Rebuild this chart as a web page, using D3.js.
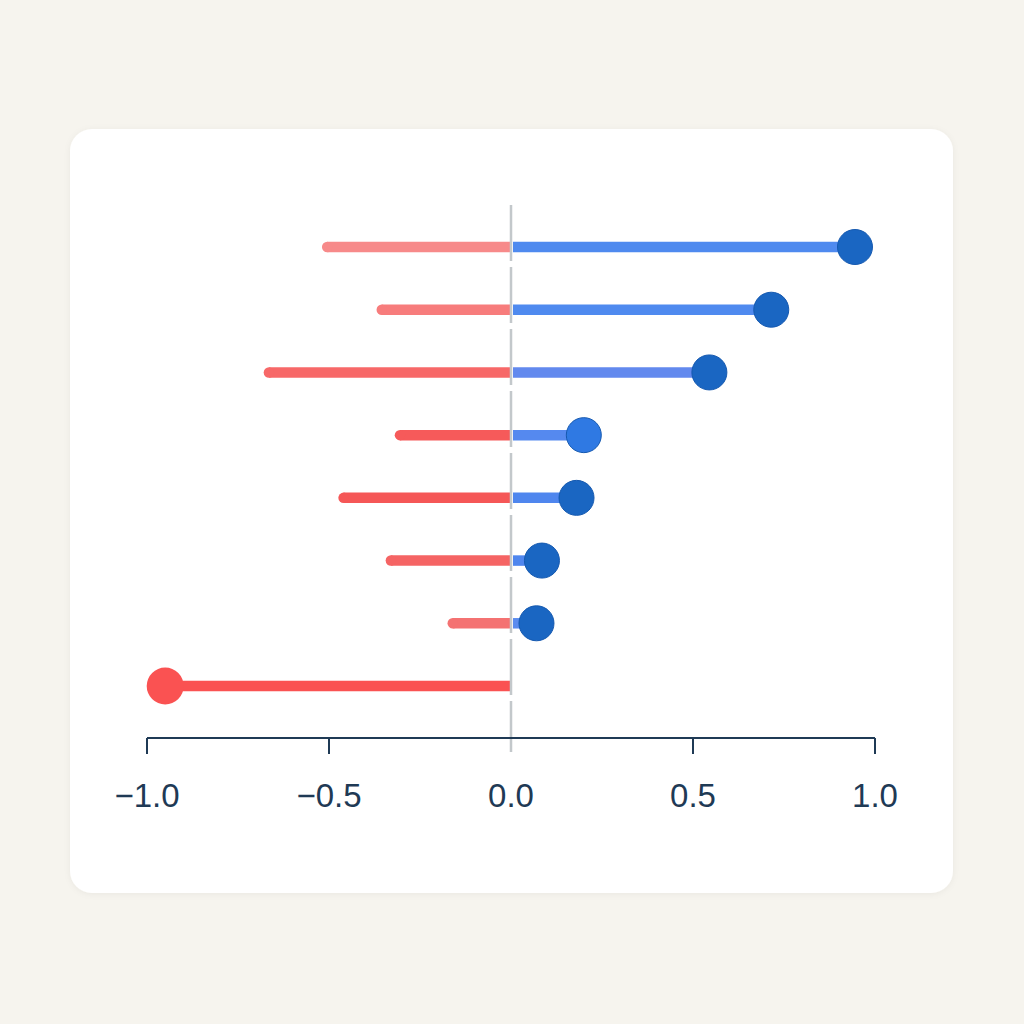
<!DOCTYPE html>
<html>
<head>
<meta charset="utf-8">
<script src="https://cdn.jsdelivr.net/npm/d3@7"></script>
<style>
  html, body { margin: 0; padding: 0; background: #f6f4ee; }
  svg { display: block; }
</style>
</head>
<body>
<svg id="chart" width="1024" height="1024"></svg>
<script>
// ---- data ----
const categories = ["A", "B", "C", "D", "E", "F", "G", "H"];
const negValues = [-0.505, -0.355, -0.665, -0.305, -0.46, -0.33, -0.16, -0.95];
const posValues = [0.945, 0.715, 0.545, 0.2, 0.18, 0.085, 0.07, null];
const negColors = ["#f78a8a", "#f77c7c", "#f76868", "#f65a5a", "#f55757", "#f56464", "#f47272", "#fa5252"];
const posBarColors = ["#4f8aef", "#4f8aef", "#6289ee", "#5589ef", "#4f86ee", "#4f86ee", "#5b8cef", null];
const posDotColors = ["#1a66c2", "#1a66c2", "#1a66c2", "#2f79e3", "#1a66c2", "#1a66c2", "#1a66c2", null];
const tickValues = [-1.0, -0.5, 0.0, 0.5, 1.0];

const svg = d3.select("#chart");

// card
const defs = svg.append("defs");
const f = defs.append("filter").attr("id", "shadow").attr("x", "-10%").attr("y", "-10%").attr("width", "120%").attr("height", "120%");
f.append("feDropShadow").attr("dx", 0).attr("dy", 1).attr("stdDeviation", 3).attr("flood-color", "#000").attr("flood-opacity", 0.05);
svg.append("rect").attr("x", 70).attr("y", 129).attr("width", 883).attr("height", 764)
  .attr("rx", 22).attr("fill", "#ffffff").attr("filter", "url(#shadow)");

const x = d3.scaleLinear().domain([-1, 1]).range([147, 875]);
const y = d3.scalePoint().domain(categories).range([247, 686]);
const barW = 10.5;

const g = svg.append("g");

// negative bars (round left end, square at zero)
categories.forEach((c, i) => {
  const v = negValues[i];
  g.append("line")
    .attr("x1", x(v)).attr("x2", x(0))
    .attr("y1", y(c)).attr("y2", y(c))
    .attr("stroke", negColors[i]).attr("stroke-width", barW)
    .attr("stroke-linecap", "butt");
  g.append("circle").attr("cx", x(v)).attr("cy", y(c)).attr("r", barW / 2)
    .attr("fill", negColors[i]);
});

// negative end dot for the largest
categories.forEach((c, i) => {
  if (negValues[i] <= -0.9) {
    g.append("circle").attr("cx", x(negValues[i])).attr("cy", y(c)).attr("r", 18.5)
      .attr("fill", negColors[i]);
  }
});

// positive bars
categories.forEach((c, i) => {
  const v = posValues[i];
  if (v == null) return;
  g.append("line")
    .attr("x1", x(0) + 2).attr("x2", x(v))
    .attr("y1", y(c)).attr("y2", y(c))
    .attr("stroke", posBarColors[i]).attr("stroke-width", barW);
});

// zero line (dashed)
g.append("line")
  .attr("x1", x(0)).attr("x2", x(0))
  .attr("y1", 205).attr("y2", 752)
  .attr("stroke", "#c3c8cb").attr("stroke-width", 2.5)
  .attr("stroke-dasharray", "56,6");

// positive dots
categories.forEach((c, i) => {
  const v = posValues[i];
  if (v == null) return;
  g.append("circle").attr("cx", x(v)).attr("cy", y(c)).attr("r", 17.5)
    .attr("fill", posDotColors[i]).attr("stroke", "#1559b0").attr("stroke-width", 1);
});

// axis
const axis = svg.append("g").attr("transform", "translate(0,738)");
axis.append("line").attr("x1", x(-1)).attr("x2", x(1)).attr("y1", 0).attr("y2", 0)
  .attr("stroke", "#1f3a55").attr("stroke-width", 2);
const fmt = d3.format(".1f");
tickValues.forEach(t => {
  if (t !== 0) {
    axis.append("line").attr("x1", x(t)).attr("x2", x(t)).attr("y1", 0).attr("y2", 16)
      .attr("stroke", "#1f3a55").attr("stroke-width", 2);
  }
  axis.append("text").attr("x", x(t)).attr("y", 69)
    .attr("text-anchor", "middle")
    .attr("font-family", "Liberation Sans, Arial, sans-serif")
    .attr("font-size", 33)
    .attr("fill", "#1f3a55")
    .text(fmt(t));
});
</script>
</body>
</html>
